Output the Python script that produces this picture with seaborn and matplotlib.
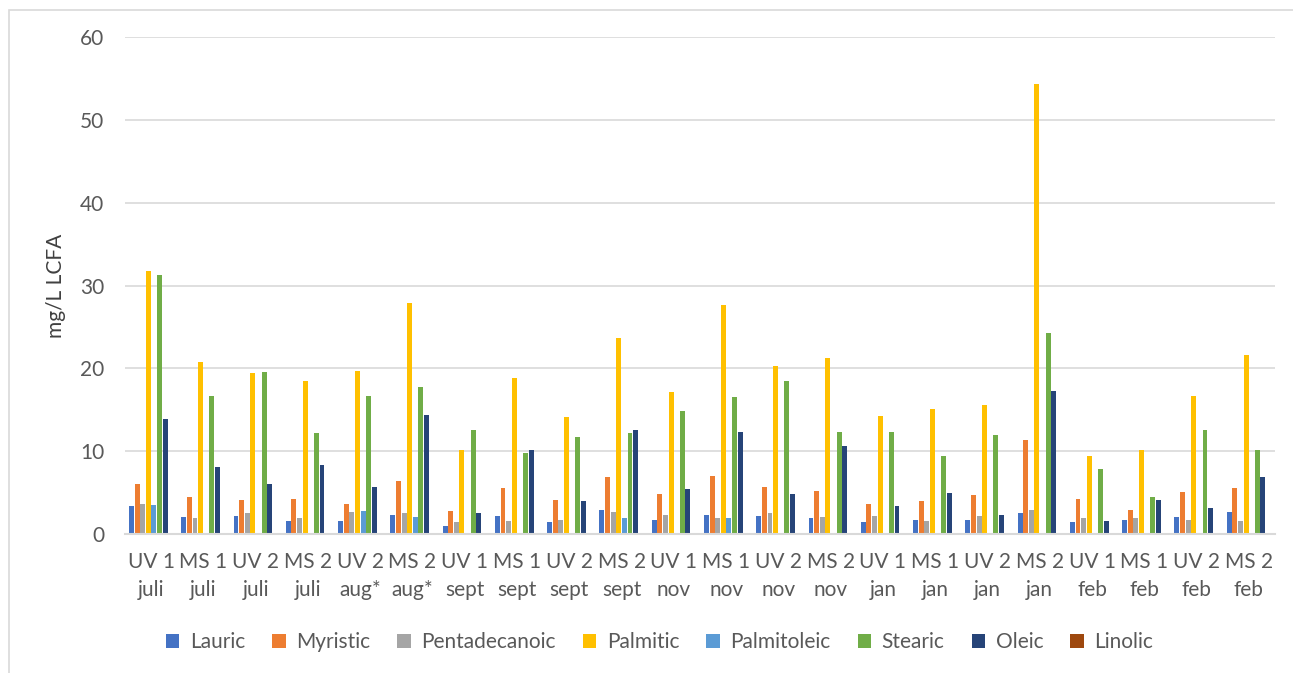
import matplotlib
matplotlib.use("Agg")
import matplotlib.pyplot as plt
import seaborn as sns
import pandas as pd
from matplotlib.patches import Rectangle

categories = ["UV 1\njuli", "MS 1\njuli", "UV 2\njuli", "MS 2\njuli", "UV 2\naug*", "MS 2\naug*",
              "UV 1\nsept", "MS 1\nsept", "UV 2\nsept", "MS 2\nsept", "UV 1\nnov", "MS 1\nnov",
              "UV 2\nnov", "MS 2\nnov", "UV 1\njan", "MS 1\njan", "UV 2\njan", "MS 2\njan",
              "UV 1\nfeb", "MS 1\nfeb", "UV 2\nfeb", "MS 2\nfeb"]

lauric = [3.4, 2.0, 2.2, 1.6, 1.6, 2.3, 1.0, 2.2, 1.4, 2.9, 1.7, 2.3, 2.2, 1.9, 1.4, 1.7, 1.7, 2.5, 1.4, 1.7, 2.0, 2.6]
myristic = [6.0, 4.5, 4.1, 4.2, 3.6, 6.45, 2.8, 5.6, 4.1, 6.9, 4.8, 7.0, 5.7, 5.2, 3.6, 3.95, 4.7, 11.3, 4.2, 2.9, 5.1, 5.6]
pentadecanoic = [3.6, 1.9, 2.5, 1.9, 2.6, 2.5, 1.4, 1.6, 1.7, 2.6, 2.3, 1.9, 2.5, 2.0, 2.2, 1.6, 2.2, 2.9, 1.9, 1.9, 1.7, 1.6]
palmitic = [31.7, 20.8, 19.4, 18.5, 19.7, 27.9, 10.2, 18.8, 14.1, 23.7, 17.1, 27.7, 20.3, 21.2, 14.3, 15.1, 15.6, 54.3, 9.4, 10.1, 16.7, 21.6]
palmitoleic = [3.5, 0, 0, 0, 2.8, 2.0, 0, 0, 0, 1.9, 0, 1.9, 0, 0, 0, 0, 0, 0, 0, 0, 0, 0]
stearic = [31.3, 16.7, 19.5, 12.2, 16.6, 17.8, 12.5, 9.8, 11.7, 12.2, 14.8, 16.5, 18.5, 12.3, 12.3, 9.4, 12.0, 24.3, 7.9, 4.5, 12.5, 10.2]
oleic = [13.9, 8.1, 6.0, 8.3, 5.7, 14.4, 2.5, 10.1, 3.95, 12.6, 5.4, 12.3, 4.8, 10.6, 3.35, 4.96, 2.3, 17.3, 1.6, 4.1, 3.1, 6.9]
linolic = [0] * 22

series_names = ["Lauric", "Myristic", "Pentadecanoic", "Palmitic", "Palmitoleic", "Stearic", "Oleic", "Linolic"]
series_values = [lauric, myristic, pentadecanoic, palmitic, palmitoleic, stearic, oleic, linolic]
colors = ["#4472C4", "#ED7D31", "#A5A5A5", "#FFC000", "#5B9BD5", "#70AD47", "#264478", "#9E480E"]

rows = []
for name, vals in zip(series_names, series_values):
    for cat, v in zip(categories, vals):
        rows.append({"sample": cat, "acid": name, "value": v})
df = pd.DataFrame(rows)

sns.set_theme(style="white")
plt.rcParams["font.family"] = ["Lato", "DejaVu Sans"]

FS = 15

fig = plt.figure(figsize=(12.93, 6.73), dpi=100)
ax = fig.add_axes([125 / 1293, 1 - 534 / 673, 1150 / 1293, (534 - 37) / 673])

sns.barplot(data=df, x="sample", y="value", hue="acid", order=categories,
            hue_order=series_names, palette=colors, width=0.86, gap=0.12,
            ax=ax, legend=True, saturation=1, linewidth=0)

ax.set_ylim(0, 60)
ax.set_xlim(-0.5, len(categories) - 0.5)
ax.set_yticks(range(0, 61, 10))
ax.yaxis.grid(True, color="#D9D9D9", linewidth=1.2)
ax.set_axisbelow(True)
for s in ["top", "right", "left"]:
    ax.spines[s].set_visible(False)
ax.spines["bottom"].set_color("#D9D9D9")
ax.spines["bottom"].set_linewidth(1.5)
ax.tick_params(axis="both", length=0, colors="#595959", labelsize=FS)
ax.tick_params(axis="y", pad=15)
ax.tick_params(axis="x", pad=13)
ax.set_xlabel("")
ax.set_ylabel("mg/L LCFA", fontsize=FS, color="#404040", labelpad=10)
for lbl in ax.get_xticklabels():
    lbl.set_linespacing(1.5)

leg = ax.legend(loc="center", bbox_to_anchor=(0.51, 1 - 642 / 673), bbox_transform=fig.transFigure,
                ncol=8, frameon=False, fontsize=FS, handlelength=0.65, handleheight=0.65,
                handletextpad=0.5, columnspacing=1.3)
for t in leg.get_texts():
    t.set_color("#595959")

fig.patches.append(Rectangle((9 / 1293, -0.05), 1.2, 1 - 10 / 673 + 0.05, transform=fig.transFigure,
                             fill=False, edgecolor="#D9D9D9", linewidth=1.2, zorder=-1))

fig.savefig("out.png", dpi=100, facecolor="white")
